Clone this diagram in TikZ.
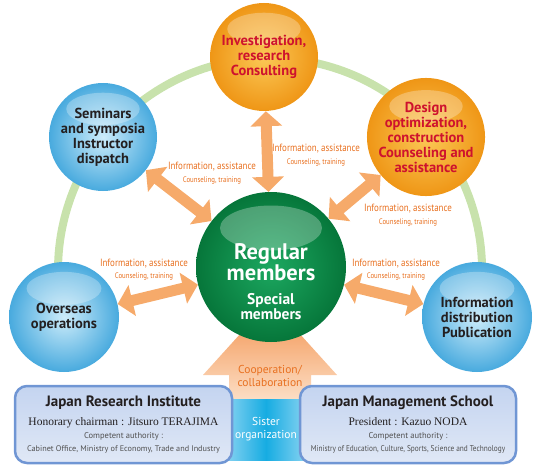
\documentclass[tikz,border=0pt]{standalone}
\usepackage{fontspec}
\setmainfont{PT Sans}
\newfontfamily\condfont[FakeStretch=0.85]{PT Sans}
\newfontfamily\condmid[FakeStretch=0.86]{PT Sans}
\newfontfamily\serifont{Liberation Serif}
\usepackage{xcolor}
\usepackage{tikz}
\usetikzlibrary{
    arrows.meta,
    calc,
    positioning
}
\definecolor{ringc}{RGB}{200,226,172}
\definecolor{arrowc}{RGB}{246,170,106}
\definecolor{labelc}{RGB}{232,112,32}
\definecolor{redtext}{RGB}{206,18,46}
\definecolor{darktext}{RGB}{35,31,32}
\definecolor{bluein}{RGB}{205,236,250}
\definecolor{blueout}{RGB}{72,170,222}
\definecolor{orangein}{RGB}{251,200,86}
\definecolor{orangeout}{RGB}{239,150,22}
\definecolor{greenin}{RGB}{28,168,96}
\definecolor{greenout}{RGB}{6,118,58}
\definecolor{boxedge}{RGB}{112,150,212}
\definecolor{boxtop}{RGB}{196,212,240}
\definecolor{boxbot}{RGB}{224,232,246}
\definecolor{authc}{RGB}{80,80,80}
\definecolor{sisterc}{RGB}{22,172,226}
\definecolor{sisteredge}{RGB}{140,212,242}
\definecolor{coopt}{RGB}{242,142,72}
\definecolor{coopb}{RGB}{253,228,206}
\lineskiplimit=-20pt
\tikzset{
    ball/.style n args={3}{circle, minimum size=#1, inner sep=0pt, align=center,
        inner color=#2, outer color=#3,
        path picture={\fill[white, opacity=.28]
            ($(path picture bounding box.north)!.24!(path picture bounding box.south)$)
            ellipse ({.34*#1} and {.15*#1});}},
    blueball/.style={ball={#1}{bluein}{blueout}, text=darktext,
        font=\bfseries\fontsize{14.5}{15}\selectfont},
    orangeball/.style={ball={#1}{orangein}{orangeout}, text=redtext,
        font=\bfseries\fontsize{14.5}{15}\selectfont},
    greenball/.style={ball={#1}{greenin}{greenout}},
    infoarrow/.style={draw=arrowc, line width=11pt,
        {Triangle[width=31pt,length=15pt]}-{Triangle[width=31pt,length=15pt]}},
    lbl/.style={align=center, text=labelc, inner sep=1pt,
        font=\condfont\fontsize{10.5}{11}\selectfont},
    orgbox/.style={draw=boxedge, line width=2.5pt, rounded corners=12pt,
        top color=boxtop, bottom color=boxbot, minimum width=217pt,
        minimum height=77pt, align=center, text=darktext, inner sep=0pt},
}
\newcommand\sublbl{\fontsize{8}{10}\selectfont Counseling, training}

\begin{document}
\begin{tikzpicture}[x=1pt, y=1pt]
    \useasboundingbox (0,0) rectangle (535,467);
    % ring behind the circles
    \coordinate (ring_c) at (270,197);
    \draw[ringc, line width=8pt] (ring_c) ++(-12.8:212pt)
        arc[start angle=-12.8, end angle=192.8, radius=212pt];
    % cooperation arrow
    \shade[top color=coopt, bottom color=coopb]
        (229,60) -- (229,92) -- (203,92) -- (270,166) -- (337,92)
        -- (311,92) -- (311,60) -- cycle;
    \node[text=labelc, align=center, font=\fontsize{11.5}{13}\selectfont]
        (coop) at (270,91) {Cooperation/\\collaboration};

    % circles
    \node[greenball=150pt] (c_main) at (271,200) {};
    \node[text=white, align=center, font=\bfseries\fontsize{22.5}{21}\selectfont] (t_main)
        at ([yshift=-14.5pt]c_main.center)
        {Regular\\members\\[3pt]
         \fontsize{15.5}{14}\selectfont Special\\[-6pt]
         \fontsize{15.5}{14}\selectfont members};
    \node[orangeball=108pt] (c_top) at (264,410) {Investigation,\\research\\Consulting};
    \node[blueball=108pt] (c_sem) at (103,330) {Seminars\\and symposia\\Instructor\\dispatch};
    \node[orangeball=108pt] (c_des) at (426,330) {Design\\optimization,\\construction\\Counseling and\\assistance};
    \node[blueball=110pt] (c_ovs) at (64,150) {Overseas\\operations};
    \node[blueball=110pt] (c_inf) at (477,150) {Information\\distribution\\Publication};

    % arrows
    \path
    (c_main) edge[infoarrow] (c_top)
    (c_main) edge[infoarrow] (c_sem)
    (c_main) edge[infoarrow] (c_des)
    (c_main) edge[infoarrow] (c_ovs)
    (c_main) edge[infoarrow] (c_inf);

    \node[lbl] (l_top) at (316,312) {Information, assistance\\[2pt]\sublbl};
    \node[lbl] (l_sem) at (212,294) {Information, assistance\\[2pt]\sublbl};
    \node[lbl] (l_des) at (408,252) {Information, assistance\\[2pt]\sublbl};
    \node[lbl] (l_ovs) at (144,197) {Information, assistance\\[1pt]\sublbl};
    \node[lbl] (l_inf) at (396,197) {Information, assistance\\[1pt]\sublbl};

    % sister organization and the two bodies
    \node[left color=sisteredge, right color=sisteredge, middle color=sisterc,
        minimum width=84pt, minimum height=61pt, inner sep=0pt, text=white,
        align=center, font=\fontsize{11.5}{13}\selectfont]
        (sister) at (266,37.5) {Sister\\organization};
    \node[orgbox] (jri) at (123.5,42.5) {%
        \bfseries\fontsize{15}{15}\selectfont Japan Research Institute\\[7pt]
        \serifont\fontsize{11.5}{13}\selectfont Honorary chairman : Jitsuro TERAJIMA\\[1pt]
        \color{authc}\fontsize{8.5}{12}\selectfont Competent authority :\\[1pt]
        \color{authc}\fontsize{8.2}{12}\selectfont Cabinet Office, Ministry of Economy, Trade and Industry};
    \node[orgbox, minimum width=216pt] (jms) at (408,42.5) {%
        \bfseries\fontsize{15}{15}\selectfont Japan Management School\\[7pt]
        \serifont\fontsize{11.5}{13}\selectfont President : Kazuo NODA\\[1pt]
        \color{authc}\fontsize{8.5}{12}\selectfont Competent authority :\\[1pt]
        \color{authc}\condmid\fontsize{8.5}{12}\selectfont Ministry of Education, Culture, Sports, Science and Technology};
\end{tikzpicture}
\end{document}
